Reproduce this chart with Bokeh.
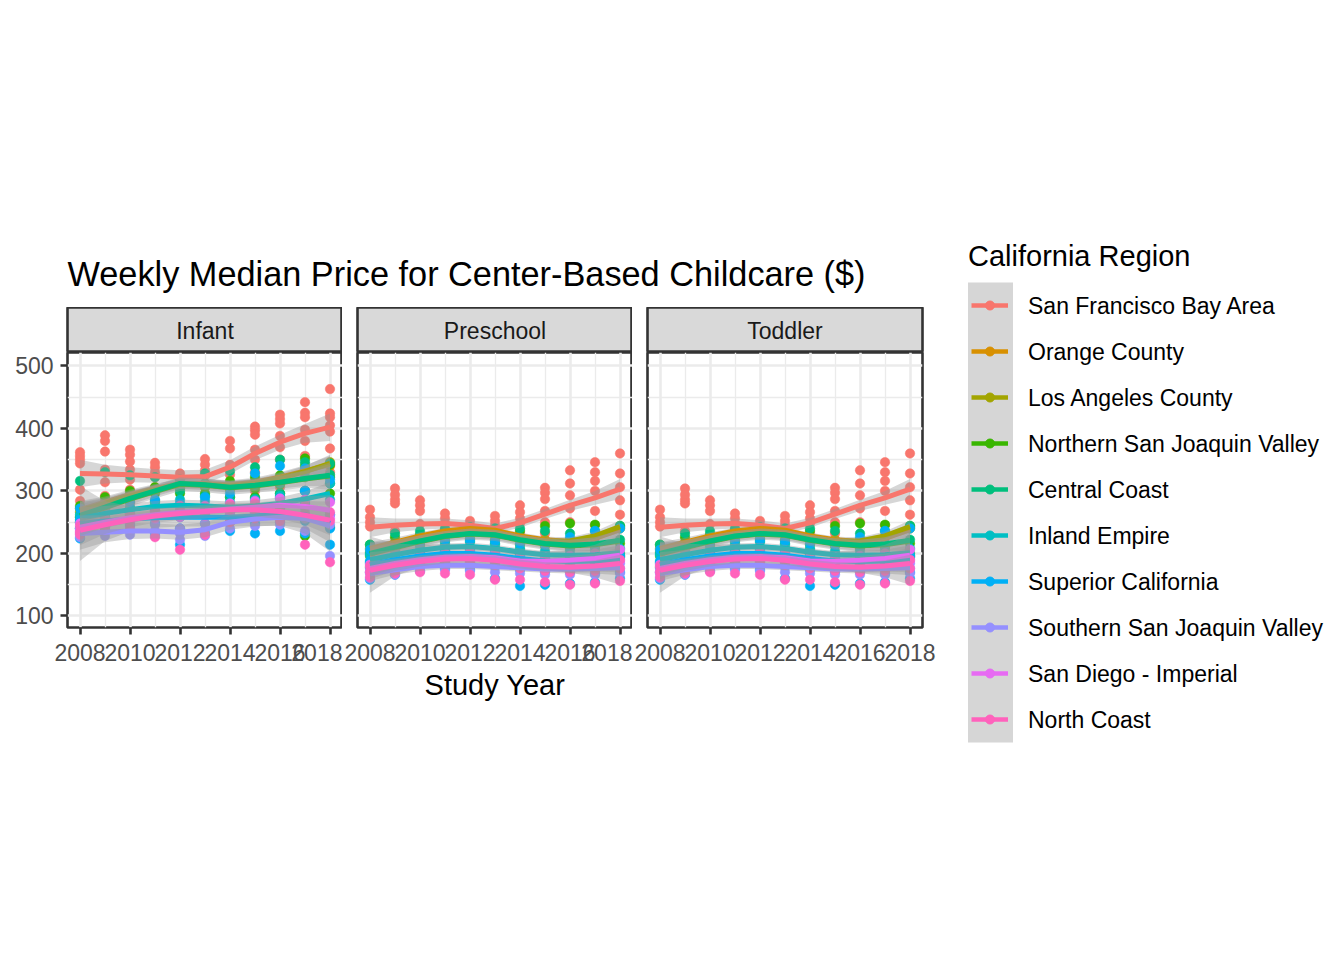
import numpy as np
from bokeh.plotting import figure
from bokeh.layouts import row, column
from bokeh.models import Range1d, FixedTicker, Label
from bokeh.core.properties import value
from bokeh.embed import file_html
from bokeh.resources import INLINE

# ---------------- data ----------------
YEARS = [2008, 2009, 2010, 2011, 2012, 2013, 2014, 2015, 2016, 2017, 2018]
X_TICKS = [2008, 2010, 2012, 2014, 2016, 2018]
X_MINOR = [2009, 2011, 2013, 2015, 2017]
Y_TICKS = [100, 200, 300, 400, 500]
Y_MINOR = [150, 250, 350, 450]
PANELS = ["Infant", "Preschool", "Toddler"]
REGIONS = ["San Francisco Bay Area", "Orange County", "Los Angeles County",
           "Northern San Joaquin Valley", "Central Coast", "Inland Empire",
           "Superior California", "Southern San Joaquin Valley",
           "San Diego - Imperial", "North Coast"]
COLORS = ["#F8766D", "#D89000", "#A3A500", "#39B600", "#00BF7D",
          "#00BFC4", "#00B0F6", "#9590FF", "#E76BF3", "#FF62BC"]

# Infant: county medians per year (one list per year)
INF_PTS_SF = [[362, 356, 350, 344, 302, 284], [389, 380, 363, 334, 314, 292],
              [366, 358, 347, 334, 318, 302, 280], [345, 338, 330, 322],
              [328, 322, 318, 312, 305], [351, 342, 333, 324, 308],
              [380, 368, 342, 326, 312], [403, 397, 390, 366, 350, 330, 300],
              [422, 415, 408, 388, 370, 350, 306, 290], [442, 425, 418, 398, 380, 356, 300],
              [463, 424, 418, 405, 395, 368, 330]]
INF_PTS_OC = [[272], [283], [292], [306], [314], [310], [308], [316], [322], [334], [340]]
INF_PTS_LA = [[266], [280], [294], [300], [310], [312], [306], [312], [320], [330], [346]]
INF_PTS_NSJV = [[276, 258, 250], [290, 272, 258], [300, 284, 272], [306, 296, 284],
                [310, 304, 296], [312, 306, 296], [316, 302, 290], [322, 304, 290],
                [325, 310, 296], [352, 340, 254, 228], [342, 322, 296, 242]]
INF_PTS_CC = [[316, 258, 240], [330, 272, 255], [325, 290, 262], [322, 300, 278],
              [318, 312, 300], [328, 310, 292], [332, 306, 290], [338, 310, 288],
              [350, 312, 296], [346, 322, 300], [344, 326, 312]]
INF_PTS_IE = [[262, 250], [270, 258], [274, 264], [282, 268], [286, 268], [284, 268],
              [282, 266], [286, 270], [292, 272], [300, 280], [312, 286]]
INF_PTS_SUP = [[272, 254, 240, 224], [276, 254, 244, 236], [282, 260, 246, 236],
               [286, 262, 248, 232], [280, 258, 240, 214], [290, 262, 248, 232],
               [296, 266, 250, 236], [328, 270, 248, 232], [340, 288, 250, 236],
               [336, 300, 252, 232], [318, 262, 240, 214]]
INF_PTS_SSJV = [[240, 232, 226], [242, 234, 228], [244, 236, 230], [246, 236, 228],
                [240, 232, 222], [248, 238, 228], [262, 250, 240], [266, 256, 244],
                [268, 258, 246], [272, 256, 236], [262, 246, 196]]
INF_PTS_SD = [[248, 236], [256, 244], [264, 250], [268, 256], [274, 258], [276, 260],
              [280, 262], [284, 264], [288, 266], [286, 264], [282, 256]]
INF_PTS_NC = [[244, 234, 230], [252, 244, 238], [262, 252, 240], [268, 258, 226],
              [276, 262, 206], [274, 266, 230], [278, 270, 250], [280, 270, 256],
              [278, 268, 252], [276, 262, 214], [266, 252, 186]]

# Infant: smoothed trend and ribbon half-width per year
INF_FIT_SF = [328, 327, 326, 324, 322, 323, 338, 360, 378, 392, 402]
INF_FIT_OC = [270, 282, 294, 304, 312, 312, 310, 314, 322, 332, 342]
INF_FIT_LA = [268, 280, 292, 302, 310, 310, 308, 312, 320, 331, 344]
INF_FIT_NSJV = [260, 273, 287, 299, 311, 309, 305, 308, 313, 319, 324]
INF_FIT_CC = [261, 274, 288, 300, 312, 310, 306, 309, 314, 320, 325]
INF_FIT_IE = [256, 264, 270, 275, 277, 276, 274, 276, 280, 287, 296]
INF_FIT_SUP = [248, 252, 255, 257, 258, 258, 258, 260, 264, 262, 248]
INF_FIT_SSJV = [232, 234, 236, 236, 234, 238, 250, 255, 258, 256, 244]
INF_FIT_SD = [242, 250, 257, 262, 266, 268, 271, 274, 277, 275, 269]
INF_FIT_NC = [237, 246, 254, 260, 264, 267, 270, 270, 267, 261, 253]

INF_BAND_SF = [22, 15, 12, 11, 11, 11, 11, 11, 12, 15, 22]
INF_BAND_OC = [14, 9, 8, 7, 7, 7, 7, 7, 8, 9, 14]
INF_BAND_LA = [14, 9, 8, 7, 7, 7, 7, 7, 8, 9, 14]
INF_BAND_NSJV = [22, 14, 12, 11, 11, 11, 11, 11, 12, 14, 22]
INF_BAND_CC = [18, 12, 10, 9, 9, 9, 9, 9, 10, 12, 18]
INF_BAND_IE = [18, 12, 10, 9, 9, 9, 9, 9, 10, 12, 18]
INF_BAND_SUP = [60, 32, 20, 16, 15, 15, 15, 16, 20, 30, 45]
INF_BAND_SSJV = [26, 16, 13, 12, 12, 12, 12, 12, 13, 16, 26]
INF_BAND_SD = [14, 9, 8, 7, 7, 7, 7, 7, 8, 9, 14]
INF_BAND_NC = [24, 15, 12, 11, 11, 11, 11, 11, 12, 15, 24]

# Preschool: county medians per year
PRE_PTS_SF = [[270, 258, 250, 243], [304, 294, 286, 280, 236], [285, 277, 268, 247],
              [264, 256, 248, 238], [252, 244, 236], [260, 252, 245, 238],
              [277, 266, 256, 248, 232], [305, 297, 287, 268, 250, 232],
              [333, 312, 293, 272, 250], [346, 330, 316, 300, 268, 245],
              [360, 328, 306, 285, 262]]
PRE_PTS_OC = [[208], [218], [228], [236], [240], [232], [226], [222], [220], [228], [240]]
PRE_PTS_LA = [[202], [212], [222], [230], [236], [234], [224], [220], [222], [226], [242]]
PRE_PTS_NSJV = [[214, 196, 178], [226, 206, 188], [230, 214, 196], [234, 220, 204],
                [236, 224, 210], [234, 222, 208], [236, 214, 198], [244, 212, 190],
                [248, 208, 190], [246, 210, 188], [244, 216, 196]]
PRE_PTS_CC = [[214, 200, 186], [232, 212, 196], [236, 222, 202], [240, 228, 212],
              [242, 232, 220], [240, 230, 216], [240, 222, 206], [236, 218, 200],
              [232, 214, 196], [236, 216, 196], [244, 222, 200]]
PRE_PTS_IE = [[198, 184], [204, 192], [210, 198], [216, 204], [218, 206], [214, 202],
              [208, 196], [204, 192], [204, 190], [206, 192], [208, 194]]
PRE_PTS_SUP = [[206, 188, 170, 158], [212, 194, 178, 166], [218, 200, 182, 172],
               [222, 204, 186, 176], [222, 204, 186, 174], [220, 200, 180, 160],
               [216, 194, 174, 148], [214, 192, 170, 150], [226, 196, 170, 152],
               [236, 198, 168, 154], [240, 196, 170, 160]]
PRE_PTS_SSJV = [[176, 168, 160], [182, 174, 166], [186, 178, 172], [188, 180, 174],
                [188, 180, 172], [186, 178, 170], [184, 176, 168], [182, 174, 166],
                [182, 174, 166], [184, 176, 166], [184, 176, 168]]
PRE_PTS_SD = [[182, 170], [190, 178], [196, 184], [200, 188], [202, 188], [200, 186],
              [194, 182], [194, 180], [196, 182], [200, 184], [206, 188]]
PRE_PTS_NC = [[180, 170, 162], [188, 176, 168], [194, 182, 170], [198, 186, 168],
              [200, 186, 166], [196, 182, 158], [190, 176, 158], [186, 172, 154],
              [184, 170, 150], [186, 172, 152], [190, 176, 156]]

PRE_FIT_SF = [242, 245, 247, 248, 245, 240, 249, 263, 277, 289, 303]
PRE_FIT_OC = [208, 218, 228, 236, 240, 237, 228, 222, 219, 224, 238]
PRE_FIT_LA = [200, 210, 220, 228, 232, 230, 223, 219, 220, 228, 243]
PRE_FIT_NSJV = [199, 209, 219, 227, 231, 229, 221, 215, 212, 214, 220]
PRE_FIT_CC = [200, 210, 220, 228, 232, 230, 222, 216, 213, 215, 221]
PRE_FIT_IE = [190, 198, 205, 210, 211, 208, 202, 198, 197, 198, 201]
PRE_FIT_SUP = [182, 190, 196, 200, 200, 197, 192, 188, 187, 188, 190]
PRE_FIT_SSJV = [168, 174, 179, 181, 181, 179, 177, 175, 175, 176, 177]
PRE_FIT_SD = [176, 184, 190, 194, 195, 193, 188, 187, 189, 192, 197]
PRE_FIT_NC = [173, 181, 187, 191, 192, 189, 183, 179, 178, 180, 184]

PRE_BAND_SF = [16, 11, 9, 8, 8, 8, 8, 8, 9, 11, 16]
PRE_BAND_OC = [10, 7, 6, 5, 5, 5, 5, 5, 6, 7, 10]
PRE_BAND_LA = [10, 7, 6, 5, 5, 5, 5, 5, 6, 7, 10]
PRE_BAND_NSJV = [18, 12, 10, 9, 9, 9, 9, 9, 10, 12, 18]
PRE_BAND_CC = [16, 11, 9, 8, 8, 8, 8, 8, 9, 11, 16]
PRE_BAND_IE = [12, 8, 7, 6, 6, 6, 6, 6, 7, 8, 12]
PRE_BAND_SUP = [45, 26, 18, 15, 14, 14, 14, 15, 18, 26, 40]
PRE_BAND_SSJV = [12, 8, 7, 6, 6, 6, 6, 6, 7, 8, 12]
PRE_BAND_SD = [12, 8, 7, 6, 6, 6, 6, 6, 7, 8, 12]
PRE_BAND_NC = [14, 9, 8, 7, 7, 7, 7, 7, 8, 9, 14]

INF_PTS = [INF_PTS_SF, INF_PTS_OC, INF_PTS_LA, INF_PTS_NSJV, INF_PTS_CC, INF_PTS_IE,
           INF_PTS_SUP, INF_PTS_SSJV, INF_PTS_SD, INF_PTS_NC]
INF_FIT = [INF_FIT_SF, INF_FIT_OC, INF_FIT_LA, INF_FIT_NSJV, INF_FIT_CC, INF_FIT_IE,
           INF_FIT_SUP, INF_FIT_SSJV, INF_FIT_SD, INF_FIT_NC]
INF_BAND = [INF_BAND_SF, INF_BAND_OC, INF_BAND_LA, INF_BAND_NSJV, INF_BAND_CC, INF_BAND_IE,
            INF_BAND_SUP, INF_BAND_SSJV, INF_BAND_SD, INF_BAND_NC]
PRE_PTS = [PRE_PTS_SF, PRE_PTS_OC, PRE_PTS_LA, PRE_PTS_NSJV, PRE_PTS_CC, PRE_PTS_IE,
           PRE_PTS_SUP, PRE_PTS_SSJV, PRE_PTS_SD, PRE_PTS_NC]
PRE_FIT = [PRE_FIT_SF, PRE_FIT_OC, PRE_FIT_LA, PRE_FIT_NSJV, PRE_FIT_CC, PRE_FIT_IE,
           PRE_FIT_SUP, PRE_FIT_SSJV, PRE_FIT_SD, PRE_FIT_NC]
PRE_BAND = [PRE_BAND_SF, PRE_BAND_OC, PRE_BAND_LA, PRE_BAND_NSJV, PRE_BAND_CC, PRE_BAND_IE,
            PRE_BAND_SUP, PRE_BAND_SSJV, PRE_BAND_SD, PRE_BAND_NC]
# Toddler values are identical to Preschool in the source chart
TOD_PTS, TOD_FIT, TOD_BAND = PRE_PTS, PRE_FIT, PRE_BAND

# ---------------- style ----------------
FONT = "Liberation Sans"
BORDER = "#333333"
GRID = "#EBEBEB"
FRAME_H = 275
BOTTOM = 100
SMALL = "23px"
MEDIUM = "29px"


def blank(width, height, xr, yr, **kw):
    f = figure(width=width, height=height, x_range=xr, y_range=yr,
               toolbar_location=None, output_backend="svg",
               x_axis_location=None, y_axis_location=None,
               min_border=0, **kw)
    f.grid.visible = False
    f.outline_line_color = None
    f.border_fill_color = "white"
    f.background_fill_color = "white"
    return f


def strip(label, width, left, right):
    s = blank(width, 45, Range1d(0, 1), Range1d(1, 0),
              min_border_left=left, min_border_right=right)
    s.background_fill_color = "#D9D9D9"
    s.outline_line_color = BORDER
    s.outline_line_width = 2.6
    s.add_layout(Label(x=0.5, y=0.53, text=label, text_align="center",
                       text_baseline="middle", text_font=FONT,
                       text_font_size=SMALL, text_color="#1A1A1A"))
    return s


def panel(pts, fit, band, width, left, right, show_y, xlabel):
    p = figure(width=width, height=FRAME_H + BOTTOM,
               x_range=Range1d(2007.5, 2018.5), y_range=Range1d(81.5, 521.5),
               toolbar_location=None, output_backend="svg",
               min_border_left=left, min_border_right=right,
               min_border_top=0, min_border_bottom=BOTTOM,
               y_axis_location="left" if show_y else None)
    p.background_fill_color = "white"
    p.border_fill_color = "white"
    p.outline_line_color = BORDER
    p.outline_line_width = 2.6

    p.xgrid.ticker = FixedTicker(ticks=X_TICKS, minor_ticks=X_MINOR)
    p.ygrid.ticker = FixedTicker(ticks=Y_TICKS, minor_ticks=Y_MINOR)
    for g in (p.xgrid, p.ygrid):
        g.grid_line_color = GRID
        g.grid_line_width = 2.6
        g.minor_grid_line_color = GRID
        g.minor_grid_line_width = 1.3

    axes = list(p.xaxis) + (list(p.yaxis) if show_y else [])
    for ax in axes:
        ax.axis_line_color = None
        ax.major_tick_line_color = BORDER
        ax.major_tick_line_width = 2.6
        ax.major_tick_out = 7
        ax.major_tick_in = 0
        ax.minor_tick_line_color = None
        ax.major_label_text_font = FONT
        ax.major_label_text_font_size = SMALL
        ax.major_label_text_color = "#4D4D4D"
    p.xaxis.ticker = FixedTicker(ticks=X_TICKS, minor_ticks=X_MINOR)
    p.xaxis.major_label_standoff = 9
    if show_y:
        p.yaxis.ticker = FixedTicker(ticks=Y_TICKS, minor_ticks=Y_MINOR)
        p.yaxis.major_label_standoff = 7
    if xlabel:
        p.xaxis.axis_label = xlabel
        p.xaxis.axis_label_text_font = FONT
        p.xaxis.axis_label_text_font_size = MEDIUM
        p.xaxis.axis_label_text_font_style = "normal"
        p.xaxis.axis_label_text_color = "black"
        p.xaxis.axis_label_standoff = 5

    for r in range(len(REGIONS)):
        xs, ys = [], []
        for yr, vals in zip(YEARS, pts[r]):
            xs += [yr] * len(vals)
            ys += vals
        p.scatter(xs, ys, marker="circle", size=9.5, fill_color=COLORS[r],
                  line_color=COLORS[r], line_width=0.5)
    for r in range(len(REGIONS)):
        f = np.array(fit[r], dtype=float)
        b = np.array(band[r], dtype=float)
        p.varea(x=YEARS, y1=f - b, y2=f + b, fill_color="#999999", fill_alpha=0.4)
        p.line(YEARS, f, line_color=COLORS[r], line_width=5, line_join="round")
    return p


W1, W2, W3 = 342, 290, 305
p1 = panel(INF_PTS, INF_FIT, INF_BAND, W1, 67, 0, True, None)
p2 = panel(PRE_PTS, PRE_FIT, PRE_BAND, W2, 15, 0, False, "Study Year")
p3 = panel(TOD_PTS, TOD_FIT, TOD_BAND, W3, 15, 15, False, None)
s1 = strip(PANELS[0], W1, 67, 0)
s2 = strip(PANELS[1], W2, 15, 0)
s3 = strip(PANELS[2], W3, 15, 15)

LEFT_W = W1 + W2 + W3
header = blank(LEFT_W, 307, Range1d(0, LEFT_W), Range1d(307, 0))
header.add_layout(Label(x=67, y=273, text="Weekly Median Price for Center-Based Childcare ($)",
                        text_font=FONT, text_font_size="34.3px", text_color="black",
                        text_baseline="alphabetic", text_align="left"))

# legend panel
LEG_W, LEG_H = 1344 - LEFT_W, 760
leg = blank(LEG_W, LEG_H, Range1d(0, LEG_W), Range1d(LEG_H, 0))
key_left, key_w, key_h, key_top = 967 - LEFT_W + 0.5, 45, 46, 282
centers = [key_top + key_h / 2 + key_h * i for i in range(len(REGIONS))]
leg.quad(left=key_left, right=key_left + key_w, top=key_top,
         bottom=key_top + key_h * len(REGIONS), fill_color="#D6D6D6", line_color=None)
leg.segment(x0=key_left + 3.5, x1=key_left + key_w - 5, y0=centers, y1=centers,
            line_color=COLORS, line_width=4.5)
leg.scatter(x=[key_left + key_w / 2 - 0.5] * len(REGIONS), y=centers, marker="circle",
            size=9, fill_color=COLORS, line_color=COLORS)
leg.text(x=[key_left + 60] * len(REGIONS), y=centers, text=REGIONS,
         text_font=value(FONT), text_font_size=SMALL, text_color="black",
         text_baseline="alphabetic", text_align="left")
leg.add_layout(Label(x=key_left, y=255, text="California Region", text_font=FONT,
                     text_font_size=MEDIUM, text_color="black",
                     text_baseline="alphabetic", text_align="left"))

layout = row(column(header, row(column(s1, p1), column(s2, p2), column(s3, p3))), leg)

open("out.html", "w").write(file_html(layout, INLINE))
